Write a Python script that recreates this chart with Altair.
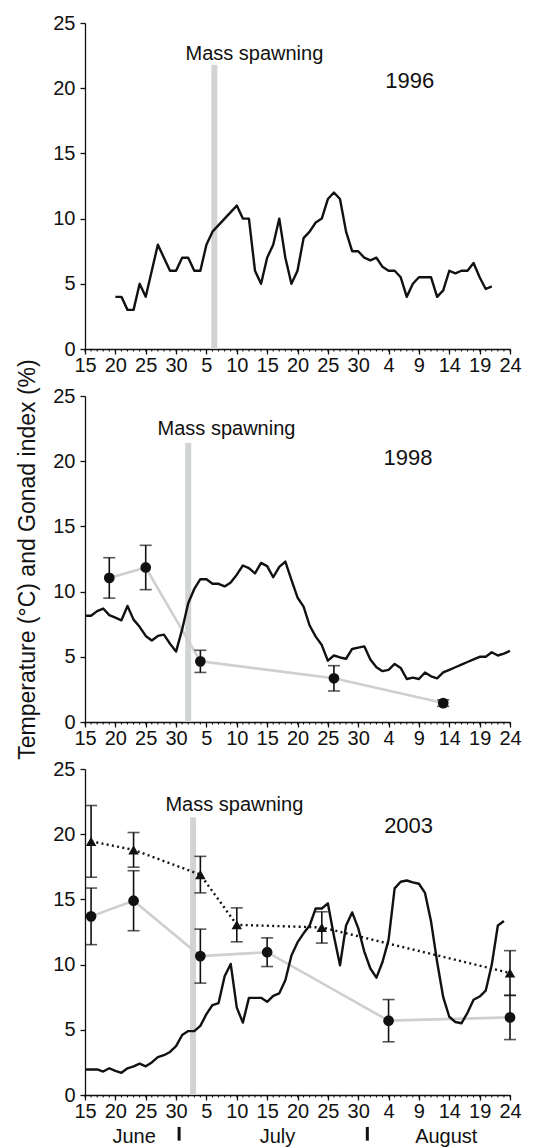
import altair as alt
import pandas as pd

FONT = "Liberation Sans"
W, H = 425, 326

# x axis: day 0 = 15 June ... day 70 = 24 August
tick_days = list(range(0, 71, 5))
tick_labels = ["15", "20", "25", "30", "5", "10", "15", "20", "25", "30", "4", "9", "14", "19", "24"]
minor_days = list(range(0, 71))
y_ticks = [0, 5, 10, 15, 20, 25]

# ---- 1996 ----
t96_days = list(range(5, 68))
t96_vals = [4, 4, 3, 3, 5, 4, 6, 8, 7, 6, 6, 7, 7, 6, 6, 8, 9, 9.5, 10, 10.5, 11, 10, 10, 6, 5, 7, 8, 10, 7, 5,
            6, 8.5, 9, 9.7, 10, 11.5, 12, 11.5, 9, 7.5, 7.5, 7, 6.8, 7, 6.3, 6, 6, 5.5, 4, 5, 5.5, 5.5, 5.5,
            4, 4.5, 6, 5.8, 6, 6, 6.6, 5.5, 4.6, 4.8]

# ---- 1998 ----
t98_days = list(range(0, 71))
t98_vals = [8.15, 8.15, 8.5, 8.7, 8.2, 8.0, 7.8, 8.9, 7.85, 7.3,
            6.6, 6.25, 6.6, 6.7, 6.0, 5.4, 7.1, 9.1, 10.2, 10.95,
            10.95, 10.6, 10.6, 10.4, 10.7, 11.3, 12.0, 11.8, 11.4, 12.2,
            11.95, 11.1, 11.9, 12.3, 10.9, 9.55, 8.85, 7.4, 6.55, 5.9,
            4.7, 5.1, 4.95, 4.85, 5.6, 5.7, 5.8, 4.8, 4.2, 3.9,
            4.0, 4.45, 4.15, 3.3, 3.4, 3.3, 3.8, 3.5, 3.35, 3.8,
            4.0, 4.2, 4.4, 4.6, 4.8, 5.0, 5.0, 5.35, 5.1, 5.25, 5.45]
g98_days = [4, 10, 19, 41, 59]
g98_mean = [11.05, 11.85, 4.65, 3.35, 1.45]
g98_err = [1.55, 1.7, 0.85, 0.97, 0.25]

# ---- 2003 ----
t03_days = list(range(0, 70))
t03_vals = [1.96, 1.96, 1.96, 1.8, 2.05, 1.85, 1.7, 2.05, 2.2, 2.4,
            2.2, 2.5, 2.9, 3.05, 3.3, 3.75, 4.6, 4.9, 4.9, 5.3,
            6.2, 6.9, 7.05, 9.1, 10.05, 6.7, 5.55, 7.45, 7.45, 7.45,
            7.15, 7.6, 7.8, 8.8, 10.7, 11.7, 12.4, 13.0, 14.3, 14.3,
            14.7, 12.2, 9.95, 13.0, 14.0, 12.8, 11.0, 9.7, 9.0, 10.2,
            11.9, 15.85, 16.35, 16.45, 16.3, 16.2, 15.5, 13.3, 10.2, 7.5,
            6.0, 5.6, 5.5, 6.3, 7.3, 7.55, 8.0, 10.0, 13.0, 13.35]
gc03_days = [1, 8, 19, 30, 50, 70]
gc03_mean = [13.7, 14.9, 10.65, 10.95, 5.7, 5.95]
gc03_err = [2.17, 2.3, 2.07, 1.1, 1.62, 1.7]
gt03_days = [1, 8, 19, 25, 39, 70]
gt03_mean = [19.45, 18.8, 16.9, 13.05, 12.85, 9.35]
gt03_err = [2.75, 1.33, 1.4, 1.3, 1.2, 1.72]

# mass spawning day and bar top, per year
spawn_day = {"1996": 21.3, "1998": 17.0, "2003": 17.8}
spawn_top = {"1996": 21.8, "1998": 21.4, "2003": 21.3}
spawn_label_x = {"1996": 27.9, "1998": 23.3, "2003": 24.6}
spawn_label_y = {"1996": 22.2, "1998": 22.0, "2003": 21.8}
year_label_x = {"1996": 53.5, "1998": 53.2, "2003": 53.3}
year_label_y = {"1996": 20.05, "1998": 19.7, "2003": 20.1}

months = ["June", "July", "August"]
month_x = [8.1, 31.7, 59.5]
month_sep_x = [15.5, 46.5]

Y_TITLE = "Temperature (°C) and Gonad index (%)"


def xenc(field="day"):
    return alt.X(f"{field}:Q",
                 scale=alt.Scale(domain=[0, 70], nice=False, zero=False),
                 axis=alt.Axis(values=tick_days, title=None, labelPadding=1,
                               labelExpr="[" + ",".join(f"'{t}'" for t in tick_labels) + "][round(datum.value/5)]",
                               labelFlush=False, labelOverlap=False))


def yenc(field, title):
    if title:
        ax = alt.Axis(values=y_ticks, title=title, titleFontSize=23, titleFontWeight="normal",
                      titleFont=FONT, titlePadding=13.5, titleColor="#111111", labelPadding=5)
    else:
        ax = alt.Axis(values=y_ticks, title=None, labelPadding=5)
    return alt.Y(f"{field}:Q", scale=alt.Scale(domain=[0, 25], nice=False), axis=ax)


def panel(year, tdays, tvals, title=None, circles=None, triangles=None, show_months=False):
    layers = []
    minor = pd.DataFrame({"day": minor_days})
    layers.append(alt.Chart(minor).mark_rule(color="black", strokeWidth=1).encode(
        x=xenc(), y=alt.value(H), y2=alt.value(H + 2.5)))
    bar = pd.DataFrame({"day": [spawn_day[year]], "lo": [0], "hi": [spawn_top[year]]})
    layers.append(alt.Chart(bar).mark_rule(color="#d1d3d4", strokeWidth=6).encode(
        x=xenc(), y=yenc("lo", title), y2="hi:Q"))
    if circles is not None:
        cd = pd.DataFrame({"day": circles[0], "v": circles[1]})
        layers.append(alt.Chart(cd).mark_line(color="#cfcfcf", strokeWidth=2.6).encode(
            x=xenc(), y=yenc("v", title)))
    tdf = pd.DataFrame({"day": tdays, "v": tvals})
    layers.append(alt.Chart(tdf).mark_line(color="#111111", strokeWidth=2.4, strokeJoin="round").encode(
        x=xenc(), y=yenc("v", title)))
    for series, shape, dotted in ((triangles, "triangle-up", True), (circles, "circle", False)):
        if series is None:
            continue
        d = pd.DataFrame({"day": series[0], "v": series[1], "e": series[2]})
        d["lo"] = d["v"] - d["e"]
        d["hi"] = d["v"] + d["e"]
        if dotted:
            layers.append(alt.Chart(d).mark_line(color="#111111", strokeWidth=2.4, strokeDash=[2, 3.3]).encode(
                x=xenc(), y=yenc("v", title)))
        layers.append(alt.Chart(d).mark_rule(color="#111111", strokeWidth=1.6).encode(
            x=xenc(), y=yenc("lo", title), y2="hi:Q"))
        for end in ("lo", "hi"):
            layers.append(alt.Chart(d).mark_tick(color="#111111", orient="horizontal", size=12,
                                                 thickness=1.6).encode(x=xenc(), y=yenc(end, title)))
        layers.append(alt.Chart(d).mark_point(shape=shape, filled=True, color="#111111", opacity=1,
                                              size=115 if shape == "circle" else 110).encode(
            x=xenc(), y=yenc("v", title)))
    txt = pd.DataFrame({"day": [spawn_label_x[year]], "v": [spawn_label_y[year]], "t": ["Mass spawning"]})
    layers.append(alt.Chart(txt).mark_text(font=FONT, fontSize=20, color="#111111", baseline="alphabetic",
                                           align="center").encode(x=xenc(), y=yenc("v", title), text="t:N"))
    yr = pd.DataFrame({"day": [year_label_x[year]], "v": [year_label_y[year]], "t": [year]})
    layers.append(alt.Chart(yr).mark_text(font=FONT, fontSize=22, color="#111111", baseline="alphabetic",
                                          align="center").encode(x=xenc(), y=yenc("v", title), text="t:N"))
    if show_months:
        md = pd.DataFrame({"day": month_x, "v": [-3.65] * 3, "t": months})
        layers.append(alt.Chart(md).mark_text(font=FONT, fontSize=20, color="#111111", baseline="alphabetic",
                                              align="center").encode(x=xenc(), y=yenc("v", title), text="t:N"))
        sd = pd.DataFrame({"day": month_sep_x, "lo": [-2.45] * 2, "hi": [-3.5] * 2})
        layers.append(alt.Chart(sd).mark_rule(color="#111111", strokeWidth=3).encode(
            x=xenc(), y=yenc("lo", title), y2="hi:Q"))
    return alt.layer(*layers).properties(width=W, height=H)


p1 = panel("1996", t96_days, t96_vals)
p2 = panel("1998", t98_days, t98_vals, title=Y_TITLE, circles=(g98_days, g98_mean, g98_err))
p3 = panel("2003", t03_days, t03_vals, circles=(gc03_days, gc03_mean, gc03_err),
           triangles=(gt03_days, gt03_mean, gt03_err), show_months=True)

chart = alt.vconcat(p1, p2, p3, spacing=47, bounds="flush").properties(
    padding={"left": 8, "top": 5, "right": 5, "bottom": 0}
).configure_view(stroke=None).configure_axis(
    domainColor="#111111", tickColor="#111111", labelColor="#111111", labelFont=FONT,
    labelFontSize=20, tickSize=5, domainWidth=1.3, tickWidth=1.3, grid=False
)

chart.save("out.html", embed_options={"renderer": "svg", "actions": False})
